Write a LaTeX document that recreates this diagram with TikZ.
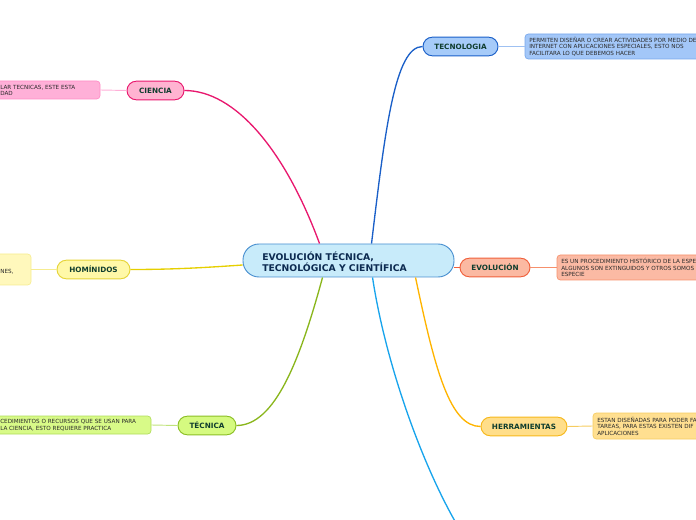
\documentclass[tikz,border=0pt]{standalone}
\usepackage{fontspec}
\setmainfont{DejaVu Sans}
\usetikzlibrary{calc}
\definecolor{lbl}{HTML}{0F3D2E}
\definecolor{ctext}{HTML}{0C2A50}
\definecolor{ntext}{HTML}{2A2A2A}
\definecolor{cenb}{HTML}{4A90D0}\definecolor{cenf}{HTML}{C8EBFA}
\definecolor{ciB}{HTML}{E8186E}\definecolor{ciF}{HTML}{FFB3D1}\definecolor{ciNB}{HTML}{FF8CC6}\definecolor{ciNF}{HTML}{FFB0D8}
\definecolor{teB}{HTML}{1A5FC8}\definecolor{teF}{HTML}{A6CBF9}\definecolor{teNB}{HTML}{76A6EC}\definecolor{teNF}{HTML}{A3C7F8}
\definecolor{hoB}{HTML}{E6D43A}\definecolor{hoF}{HTML}{FFF8A8}\definecolor{hoNB}{HTML}{F6EC90}\definecolor{hoNF}{HTML}{FFF8BC}\definecolor{hoC}{HTML}{E6CF00}
\definecolor{evB}{HTML}{F0603C}\definecolor{evF}{HTML}{FBB9A2}\definecolor{evNB}{HTML}{F6906C}\definecolor{evNF}{HTML}{FBBAA4}
\definecolor{tcB}{HTML}{8CBF26}\definecolor{tcF}{HTML}{D5FA80}\definecolor{tcNB}{HTML}{B0DC5A}\definecolor{tcNF}{HTML}{D8FA88}\definecolor{tcC}{HTML}{8AB61C}
\definecolor{heB}{HTML}{F6B81C}\definecolor{heF}{HTML}{FFDE8A}\definecolor{heNB}{HTML}{F6CC60}\definecolor{heNF}{HTML}{FFDF90}\definecolor{heC}{HTML}{FFB400}
\definecolor{boC}{HTML}{18A4EC}
\tikzset{
  topic/.style={draw, line width=0.7pt, rounded corners=7pt, minimum height=14pt, inner sep=0pt,
     font=\fontsize{5.45}{6}\selectfont\bfseries, text=lbl},
  notebox/.style={draw, line width=0.5pt, rounded corners=2.5pt, inner sep=0pt},
  notetext/.style={font=\fontsize{4.25}{4.9}\selectfont, text=ntext, align=left, inner sep=0pt, anchor=west},
  conn/.style={line width=1pt},
  link/.style={line width=0.7pt},
}
\begin{document}
\begin{tikzpicture}[x=0.75pt,y=-0.75pt]
\useasboundingbox (0,0) rectangle (696,520);
% central
\node[draw=cenb, fill=cenf, line width=0.7pt, rounded corners=12pt,
  minimum width=158.25pt, minimum height=24.75pt, inner sep=0pt] (c) at (348.5,260.5) {};
\node[font=\fontsize{6.95}{8.3}\selectfont\bfseries, text=ctext, align=left, anchor=west, inner sep=0pt]
  (ct) at (262,261.5) {EVOLUCIÓN TÉCNICA,\\TECNOLÓGICA Y CIENTÍFICA};

% topic nodes
\node[topic, draw=ciB, fill=ciF, minimum width=42.75pt] (ci) at (155.5,90.5) {CIENCIA};
\node[topic, draw=teB, fill=teF, minimum width=56.25pt] (te) at (460.5,46.5) {TECNOLOGIA};
\node[topic, draw=hoB, fill=hoF, minimum width=54.75pt] (ho) at (93.5,269.5) {HOMÍNIDOS};
\node[topic, draw=evB, fill=evF, minimum width=52.5pt] (ev) at (495,267.5) {EVOLUCIÓN};
\node[topic, draw=tcB, fill=tcF, minimum width=43.5pt] (tc) at (207,425.5) {TÉCNICA};
\node[topic, draw=heB, fill=heF, minimum width=64.5pt] (he) at (524,426.5) {HERRAMIENTAS};

% note boxes
\node[notebox, draw=ciNB, fill=ciNF, minimum width=150pt, minimum height=13.5pt] (cin) at (0,90) {};
\node[notetext] (cint) at (0,90.5) {LAR TECNICAS, ESTE ESTA\\DAD};
\node[notebox, draw=teNB, fill=teNF, minimum width=150pt, minimum height=18.75pt] (ten) at (625,46.5) {};
\node[notetext] (tent) at (529,46.5) {PERMITEN DISEÑAR O CREAR ACTIVIDADES POR MEDIO DE\\INTERNET CON APLICACIONES ESPECIALES, ESTO NOS\\FACILITARA LO QUE DEBEMOS HACER};
\node[notebox, draw=hoNB, fill=hoNF, minimum width=90pt, minimum height=23.25pt] (hon) at (-29,269.5) {};
\node[notetext] (hont) at (0,272) {NES,};
\node[notebox, draw=evNB, fill=evNF, minimum width=150pt, minimum height=18.75pt] (evn) at (657,267.5) {};
\node[notetext] (evnt) at (561,267.5) {ES UN PROCEDIMIENTO HISTÓRICO DE LA ESPE\\ALGUNOS SON EXTINGUIDOS Y OTROS SOMOS U\\ESPECIE};
\node[notebox, draw=tcNB, fill=tcNF, minimum width=150pt, minimum height=13.5pt] (tcn) at (51,425) {};
\node[notetext] (tcnt) at (0,425.5) {CEDIMIENTOS O RECURSOS QUE SE USAN PARA\\LA CIENCIA, ESTO REQUIERE PRACTICA};
\node[notebox, draw=heNB, fill=heNF, minimum width=150pt, minimum height=19.5pt] (hen) at (693,426) {};
\node[notetext] (hent) at (597,426) {ESTAN DISEÑADAS PARA PODER FA\\TAREAS, PARA ESTAS EXISTEN DIF\\APLICACIONES};

% note links
\draw[link, draw=ciNF] (cin.east) -- (ci.west);
\draw[link, draw=teNB!70!white] (te.east) -- (ten.west);
\draw[link, draw=hoNB] (hon.east) -- (ho.west);
\draw[link, draw=evNB] (ev.east) -- (evn.west);
\draw[link, draw=tcNB!80!white] (tcn.east) -- (tc.west);
\draw[link, draw=heNB] (he.east) -- (hen.west);

% main connectors
\coordinate (bo) at (456,523);
\draw[conn, draw=ciB] ($(c.north west)+(77,0)$) .. controls (285,150) and (235,90.5) .. (ci.east);
\draw[conn, draw=teB] ($(c.north west)+(129,0)$) .. controls (385,130) and (395,46.5) .. (te.west);
\draw[conn, draw=hoC] ($(c.west)+(0,4.5)$) .. controls (200,268) and (170,269.5) .. (ho.east);
\draw[conn, draw=evB] ($(c.east)+(0,7)$) -- (ev.west);
\draw[conn, draw=tcC] ($(c.south west)+(80,0)$) .. controls (300,360) and (275,425.5) .. (tc.east);
\draw[conn, draw=heC] ($(c.south west)+(173,0)$) .. controls (435,370) and (450,426.5) .. (he.west);
\draw[conn, draw=boC] ($(c.south west)+(130,0)$) .. controls (385,360) and (420,460) .. (bo);
\end{tikzpicture}
\end{document}
